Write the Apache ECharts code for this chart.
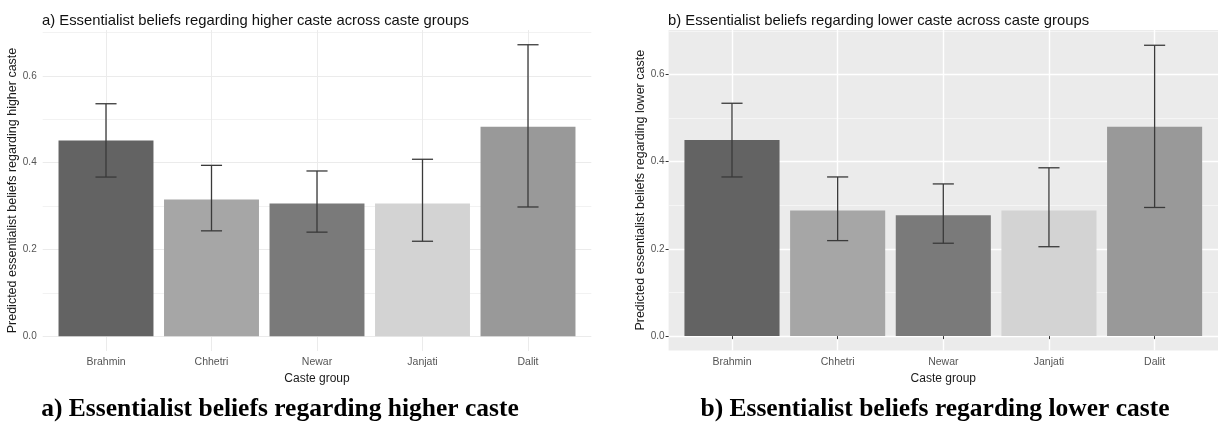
<!DOCTYPE html>
<html>
<head>
<meta charset="utf-8">
<script src="https://cdn.jsdelivr.net/npm/echarts@6/dist/echarts.min.js"></script>
<style>
  html, body { margin: 0; padding: 0; background: #fff; }
  #chart { width: 1220px; height: 432px; }
</style>
</head>
<body>
<div id="chart"></div>
<script>
// caste groups along the x axis
const categories = ['Brahmin', 'Chhetri', 'Newar', 'Janjati', 'Dalit'];
const catPositions = [1, 2, 3, 4, 5];

// a) higher caste: predicted value and CI
const higherMean = [0.451, 0.315, 0.306, 0.306, 0.483];
const higherLow = [0.367, 0.243, 0.240, 0.219, 0.298];
const higherHigh = [0.536, 0.394, 0.381, 0.408, 0.672];

// b) lower caste: predicted value and CI
const lowerMean = [0.450, 0.288, 0.277, 0.288, 0.480];
const lowerLow = [0.365, 0.219, 0.213, 0.205, 0.295];
const lowerHigh = [0.534, 0.365, 0.349, 0.386, 0.667];

// y ticks
const majorTicks = [0, 0.2, 0.4, 0.6];
const minorTicks = [0.1, 0.3, 0.5, 0.7];

const barColors = ['#636363', '#a6a6a6', '#7a7a7a', '#d3d3d3', '#999999'];
const labelFont = '"Liberation Sans", Arial, sans-serif';
const captionFont = '"Liberation Serif", "Times New Roman", serif';

const chart = echarts.init(document.getElementById('chart'));

const barItem = (params, api) => {
  const x = api.value(0);
  const p0 = api.coord([x - 0.45, api.value(1)]);
  const p1 = api.coord([x + 0.45, 0]);
  return {
    type: 'rect',
    shape: { x: p0[0], y: p0[1], width: p1[0] - p0[0], height: p1[1] - p0[1] },
    style: { fill: barColors[params.dataIndex] },
  };
};

const errItem = (params, api) => {
  const x = api.value(0);
  const lo = api.coord([x, api.value(1)]);
  const hi = api.coord([x, api.value(2)]);
  const capL = api.coord([x - 0.1, api.value(1)])[0];
  const capR = api.coord([x + 0.1, api.value(1)])[0];
  const style = { stroke: '#3a3a3a', lineWidth: 1.3 };
  return {
    type: 'group',
    children: [
      { type: 'line', shape: { x1: lo[0], y1: lo[1], x2: hi[0], y2: hi[1] }, style },
      { type: 'line', shape: { x1: capL, y1: hi[1], x2: capR, y2: hi[1] }, style },
      { type: 'line', shape: { x1: capL, y1: lo[1], x2: capR, y2: lo[1] }, style },
    ],
  };
};

const makeX = (gridIndex, gray) => ({
  type: 'value',
  gridIndex,
  min: 0.4,
  max: 5.6,
  name: 'Caste group',
  nameLocation: 'middle',
  nameGap: 18,
  nameTextStyle: { color: '#1a1a1a', fontSize: 12, fontFamily: labelFont },
  axisLine: { show: false },
  axisTick: { show: gray, customValues: catPositions, length: 3, lineStyle: { color: '#333', width: 1 } },
  axisLabel: {
    customValues: catPositions,
    margin: 6,
    color: '#555',
    fontSize: 10.5,
    fontFamily: labelFont,
    formatter: (v) => categories[Math.round(v) - 1] || '',
  },
  splitLine: { show: true, lineStyle: { color: gray ? '#ffffff' : '#ebebeb', width: gray ? 1.4 : 1 } },
});

const makeY = (gridIndex, gray, min, max, title) => ({
  type: 'value',
  gridIndex,
  min,
  max,
  name: title,
  nameLocation: 'middle',
  nameGap: gray ? 21 : 23,
  nameTextStyle: { color: '#1a1a1a', fontSize: 12.5, fontFamily: labelFont },
  axisLine: { show: false },
  axisTick: { show: gray, customValues: majorTicks, length: 3, lineStyle: { color: '#333', width: 1 } },
  axisLabel: {
    customValues: majorTicks,
    margin: gray ? 4 : 6,
    color: '#555',
    fontSize: 10,
    fontFamily: labelFont,
    formatter: (v) => v.toFixed(1),
  },
  splitLine: { show: true, lineStyle: { color: gray ? '#ffffff' : '#ebebeb', width: gray ? 1.4 : 1 } },
});

// second y axis per panel only for minor grid lines
const makeMinorY = (gridIndex, gray, min, max) => ({
  type: 'value',
  gridIndex,
  min,
  max,
  axisLine: { show: false },
  axisTick: { show: false, customValues: minorTicks },
  axisLabel: { show: false, customValues: minorTicks },
  splitLine: { show: true, lineStyle: { color: gray ? '#f7f7f7' : '#efefef', width: 0.8 } },
});

const option = {
  animation: false,
  backgroundColor: '#ffffff',
  title: [
    {
      text: 'a) Essentialist beliefs regarding higher caste across caste groups',
      left: 37, top: 8,
      textStyle: { fontSize: 14.8, fontWeight: 'normal', color: '#111', fontFamily: labelFont },
    },
    {
      text: 'b) Essentialist beliefs regarding lower caste across caste groups',
      left: 663, top: 8,
      textStyle: { fontSize: 14.8, fontWeight: 'normal', color: '#111', fontFamily: labelFont },
    },
    {
      text: 'a) Essentialist beliefs regarding higher caste',
      left: 275, top: 391, textAlign: 'center',
      textStyle: { fontSize: 25.5, fontWeight: 'bold', color: '#000', fontFamily: captionFont },
    },
    {
      text: 'b) Essentialist beliefs regarding lower caste',
      left: 930, top: 391, textAlign: 'center',
      textStyle: { fontSize: 25.5, fontWeight: 'bold', color: '#000', fontFamily: captionFont },
    },
  ],
  grid: [
    { left: 42.7, right: 628.7, top: 30, bottom: 81 },
    { left: 668.6, right: 2, top: 30, bottom: 81.5, show: true, backgroundColor: '#ebebeb', borderWidth: 0 },
  ],
  xAxis: [makeX(0, false), makeX(1, true)],
  yAxis: [
    makeY(0, false, -0.034, 0.706, 'Predicted essentialist beliefs regarding higher caste'),
    makeY(1, true, -0.033, 0.702, 'Predicted essentialist beliefs regarding lower caste'),
    makeMinorY(0, false, -0.034, 0.706),
    makeMinorY(1, true, -0.033, 0.702),
  ],
  series: [
    {
      type: 'custom', xAxisIndex: 0, yAxisIndex: 0, renderItem: barItem, z: 3,
      data: catPositions.map((x, i) => [x, higherMean[i]]),
    },
    {
      type: 'custom', xAxisIndex: 0, yAxisIndex: 0, renderItem: errItem, z: 4,
      data: catPositions.map((x, i) => [x, higherLow[i], higherHigh[i]]),
    },
    {
      type: 'custom', xAxisIndex: 1, yAxisIndex: 1, renderItem: barItem, z: 3,
      data: catPositions.map((x, i) => [x, lowerMean[i]]),
    },
    {
      type: 'custom', xAxisIndex: 1, yAxisIndex: 1, renderItem: errItem, z: 4,
      data: catPositions.map((x, i) => [x, lowerLow[i], lowerHigh[i]]),
    },
  ],
};

chart.setOption(option);
</script>
</body>
</html>
